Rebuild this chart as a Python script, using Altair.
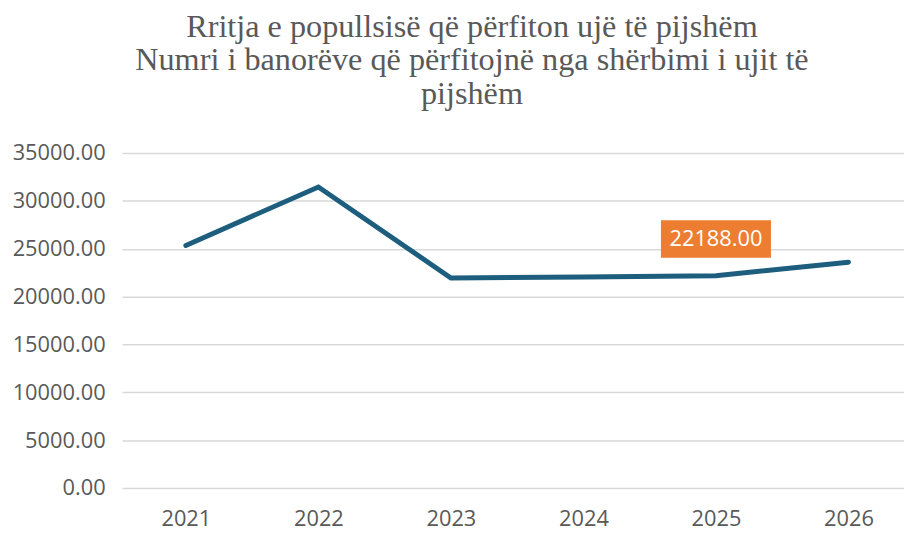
import altair as alt
import pandas as pd

years = [2021, 2022, 2023, 2024, 2025, 2026]
values = [25350, 31450, 21950, 22050, 22188, 23600]
label_year = [2025]
label_value = [22188]
label_text = ["22188.00"]

df = pd.DataFrame({"year": years, "value": values})
lab = pd.DataFrame({"year": label_year, "value": label_value, "text": label_text})

W = 789
x_scale = alt.Scale(domain=[2020.518, 2026.419], nice=False, zero=False)
y_scale = alt.Scale(domain=[0, 35000])
FS = 22

line = alt.Chart(df).mark_line(color="#1d5e7e", strokeWidth=5, strokeCap="round", strokeJoin="miter").encode(
    x=alt.X("year:Q", scale=x_scale,
            axis=alt.Axis(title=None, values=years, format="d", labelAngle=0, labelFontSize=FS,
                          labelColor="#595959", labelFont="Open Sans", domain=False, ticks=False,
                          labelPadding=21, grid=False, labelFlush=False)),
    y=alt.Y("value:Q", scale=y_scale,
            axis=alt.Axis(title=None, values=[0, 5000, 10000, 15000, 20000, 25000, 30000, 35000],
                          format=".2f", labelFontSize=FS, labelColor="#595959", labelFont="Open Sans",
                          domain=False, ticks=False, labelPadding=17, gridColor="#d9d9d9", gridWidth=1.5)),
)

box = alt.Chart(lab).mark_point(
    shape="M-1,-0.34 H1 V0.34 H-1 Z", size=12321, filled=True, fill="#ed7d31", opacity=1, strokeWidth=0, yOffset=-37
).encode(
    x=alt.X("year:Q", scale=x_scale),
    y=alt.Y("value:Q", scale=y_scale),
)

txt = alt.Chart(lab).mark_text(
    color="white", fontSize=FS, font="Open Sans", yOffset=-37, baseline="middle", align="center"
).encode(
    x=alt.X("year:Q", scale=x_scale),
    y=alt.Y("value:Q", scale=y_scale),
    text="text:N",
)

chart = alt.layer(line, box, txt).properties(
    width=W, height=338,
    padding={"top": 0, "left": 4, "right": 0, "bottom": 0},
    title=alt.TitleParams(
        text=["Rritja e popullsisë që përfiton ujë të pijshëm",
              "Numri i banorëve që përfitojnë nga shërbimi i ujit të",
              "pijshëm"],
        font="Liberation Serif", fontSize=32.5, fontWeight="normal", color="#595959",
        anchor="middle", frame="bounds", lineHeight=34, offset=32, dx=14,
    ),
).configure(background="white").configure_view(stroke=None)

chart.save("out.html", embed_options={"renderer": "svg", "actions": False})
